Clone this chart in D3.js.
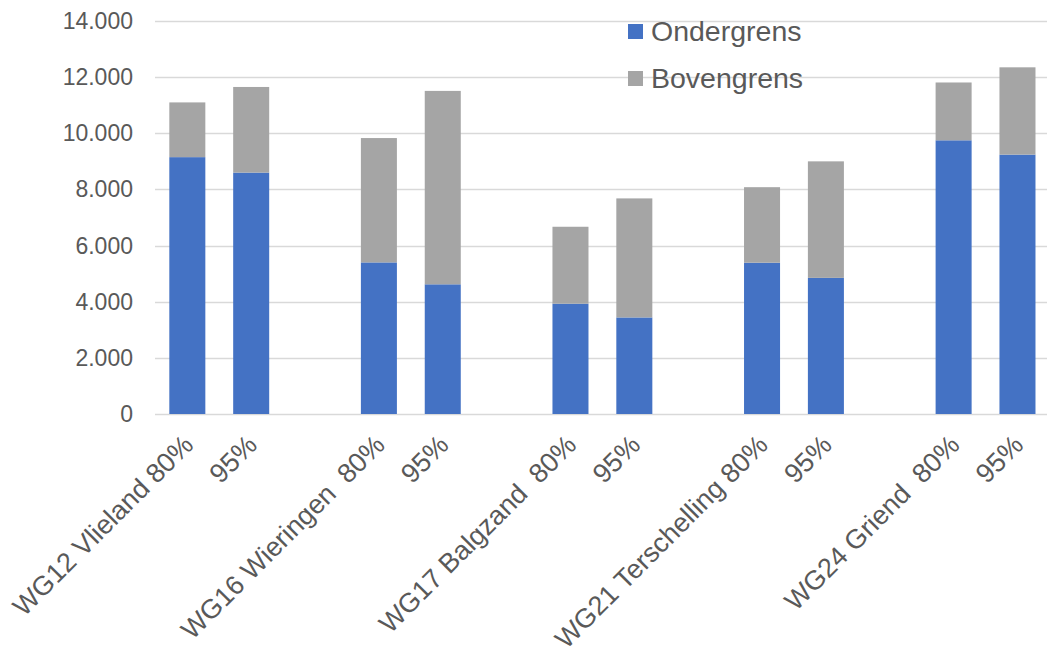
<!DOCTYPE html>
<html><head><meta charset="utf-8">
<script src="https://cdn.jsdelivr.net/npm/d3@7"></script>
<style>
html,body{margin:0;padding:0;background:#fff;}
svg text{font-family:"Liberation Sans",Arial,sans-serif;fill:#595959;}
</style></head>
<body>
<svg id="chart" width="1047" height="648"></svg>
<script>
const categories = ["WG12 Vlieland 80%","95%","","WG16 Wieringen  80%","95%","","WG17 Balgzand  80%","95%","","WG21 Terschelling 80%","95%","","WG24 Griend  80%","95%"];
const ondergrens = [9150, 8600, 0, 5400, 4620, 0, 3930, 3440, 0, 5390, 4850, 0, 9750, 9240];
const bovengrens = [1950, 3050, 0, 4430, 6890, 0, 2740, 4240, 0, 2690, 4150, 0, 2060, 3110];
const seriesNames = ["Ondergrens","Bovengrens"];
const colors = ["#4472C4","#A5A5A5"];
const yTicks = [0,2000,4000,6000,8000,10000,12000,14000];

const svg = d3.select("#chart");
const rows = categories.map((c,i)=>({i, Ondergrens: ondergrens[i], Bovengrens: bovengrens[i]}));
const stack = d3.stack().keys(seriesNames)(rows);

const x = d3.scaleBand().domain(d3.range(categories.length)).range([155.4,1049.4]).paddingInner(0.436).paddingOuter(0.218);
const y = d3.scaleLinear().domain([0,14000]).range([414,21]);
const fmt = v => d3.format(",")(v).replace(/,/g,".");

// gridlines
svg.append("g").selectAll("line").data(yTicks).join("line")
  .attr("x1",155).attr("x2",1047)
  .attr("y1",d=>Math.round(y(d))+0.5).attr("y2",d=>Math.round(y(d))+0.5)
  .attr("stroke","#D9D9D9").attr("stroke-width",1.5);

// y labels
svg.append("g").selectAll("text").data(yTicks).join("text")
  .attr("x",133).attr("y",d=>y(d)).attr("dy","0.35em")
  .attr("text-anchor","end").style("font-size","23px")
  .text(d=>fmt(d));

// bars
svg.append("g").selectAll("g").data(stack).join("g")
  .attr("fill",(d,i)=>colors[i])
  .selectAll("rect").data(d=>d.filter(p=>p[1]>p[0])).join("rect")
  .attr("x",d=>x(d.data.i)).attr("width",x.bandwidth())
  .attr("y",d=>y(d[1])).attr("height",d=>y(d[0])-y(d[1]));

// x labels
svg.append("g").selectAll("text").data(categories.map((c,i)=>({c,i})).filter(d=>d.c)).join("text")
  .attr("transform",d=>`translate(${x(d.i)+x.bandwidth()/2-6},${433}) rotate(-45)`)
  .attr("text-anchor","end").attr("dy","0.71em")
  .style("font-size","27px").style("white-space","pre")
  .text(d=>d.c);

// legend
const lg = svg.append("g");
seriesNames.forEach((s,i)=>{
  const yy = 31 + i*47;
  lg.append("rect").attr("x",628).attr("y",yy-7).attr("width",15).attr("height",15).attr("fill",colors[i]);
  lg.append("text").attr("x",651).attr("y",yy).attr("dy","0.35em").style("font-size","28.5px").text(s);
});
</script>
</body></html>
